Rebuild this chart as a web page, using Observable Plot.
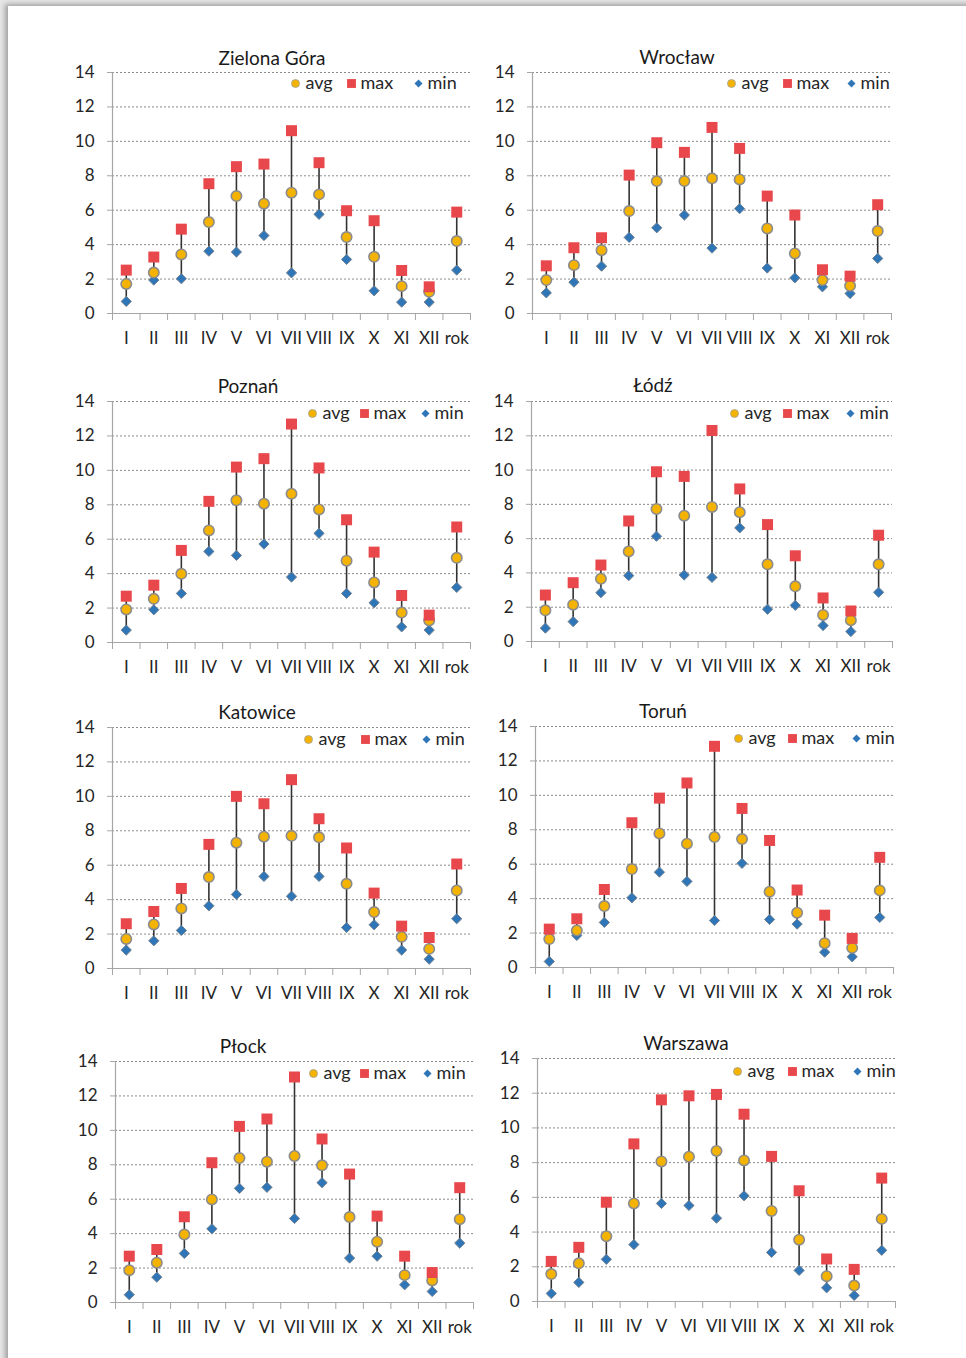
<!DOCTYPE html>
<html>
<head>
<meta charset="utf-8">
<script src="https://cdn.jsdelivr.net/npm/d3@7"></script>
<script src="https://cdn.jsdelivr.net/npm/@observablehq/plot@0.6"></script>
<style>
  html, body { margin: 0; padding: 0; background: #e6e6e6; }
  #page { position: relative; width: 966px; height: 1358px; overflow: hidden; background: #e6e6e6; }
  #card { position: absolute; left: 8px; top: 6px; width: 980px; height: 1380px; background: #ffffff;
          box-shadow: -3px -2px 5px rgba(0,0,0,0.30); }
  .title { position: absolute; transform: translate(-50%, -50%); font-family: Lato, "Open Sans", sans-serif;
           font-size: 19px; color: #1a1a1a; white-space: nowrap; }
  .panel { position: absolute; }
  .panel svg { overflow: visible; }
</style>
</head>
<body>
<div id="page"><div id="card"></div></div>
<script>
// ---- data ----
const months = ["I","II","III","IV","V","VI","VII","VIII","IX","X","XI","XII","rok"];
const cities = ["Zielona Góra","Wrocław","Poznań","Łódź","Katowice","Toruń","Płock","Warszawa"];
const seriesNames = ["avg","max","min"];
const yTicks = [0,2,4,6,8,10,12,14];

const avgValues = [
  [1.72,2.38,3.43,5.31,6.82,6.38,7.02,6.92,4.44,3.29,1.59,1.26,4.21],
  [1.94,2.81,3.68,5.95,7.69,7.69,7.85,7.79,4.94,3.49,1.94,1.61,4.79],
  [1.92,2.54,3.99,6.51,8.26,8.06,8.64,7.73,4.75,3.49,1.74,1.28,4.92],
  [1.82,2.15,3.66,5.25,7.73,7.34,7.85,7.54,4.50,3.22,1.55,1.24,4.50],
  [1.72,2.56,3.49,5.31,7.31,7.66,7.71,7.62,4.92,3.28,1.84,1.14,4.53],
  [1.65,2.15,3.57,5.72,7.79,7.19,7.58,7.46,4.40,3.18,1.41,1.14,4.48],
  [1.88,2.31,3.95,5.99,8.39,8.18,8.51,7.97,4.96,3.53,1.59,1.28,4.84],
  [1.58,2.20,3.76,5.65,8.07,8.34,8.67,8.13,5.22,3.56,1.46,0.92,4.76]
];
const maxValues = [
  [2.52,3.28,4.90,7.54,8.53,8.68,10.62,8.76,5.97,5.39,2.50,1.55,5.89],
  [2.77,3.82,4.40,8.04,9.92,9.36,10.81,9.59,6.82,5.72,2.54,2.17,6.32],
  [2.69,3.33,5.35,8.20,10.19,10.68,12.69,10.14,7.13,5.25,2.73,1.59,6.71],
  [2.71,3.43,4.46,7.03,9.90,9.63,12.31,8.90,6.82,5.00,2.54,1.78,6.20],
  [2.60,3.31,4.65,7.21,10.00,9.57,10.97,8.70,7.00,4.38,2.46,1.80,6.07],
  [2.23,2.83,4.53,8.41,9.84,10.72,12.85,9.24,7.38,4.50,3.04,1.69,6.40],
  [2.69,3.08,4.98,8.12,10.23,10.66,13.10,9.50,7.46,5.02,2.69,1.74,6.67],
  [2.31,3.12,5.72,9.08,11.62,11.85,11.93,10.79,8.36,6.38,2.45,1.85,7.11]
];
const minValues = [
  [0.70,1.94,2.02,3.62,3.57,4.53,2.36,5.76,3.14,1.32,0.66,0.66,2.52],
  [1.20,1.82,2.75,4.42,4.98,5.72,3.80,6.09,2.64,2.07,1.55,1.16,3.20],
  [0.72,1.90,2.85,5.29,5.06,5.72,3.80,6.34,2.85,2.31,0.91,0.72,3.20],
  [0.78,1.16,2.85,3.84,6.14,3.88,3.74,6.63,1.88,2.11,0.93,0.58,2.87],
  [1.07,1.61,2.21,3.64,4.30,5.35,4.20,5.35,2.38,2.54,1.07,0.54,2.89],
  [0.35,1.86,2.62,4.05,5.54,5.00,2.73,6.05,2.79,2.52,0.89,0.62,2.91],
  [0.45,1.47,2.85,4.28,6.63,6.69,4.88,6.96,2.58,2.69,1.03,0.64,3.45],
  [0.46,1.10,2.43,3.28,5.65,5.53,4.80,6.09,2.83,1.79,0.79,0.35,2.95]
];

// ---- layout (page pixels): plot frame L/R/T/B, title centre, legend marker positions ----
const layout = [
  {L:112, R:470, T:72,   B:313,  tx:272, ty:57,   lx:295, ly:83,   sq:56, di:123},
  {L:532, R:891, T:72,   B:313,  tx:677, ty:56,   lx:731, ly:83,   sq:56, di:120},
  {L:112, R:470, T:401,  B:642,  tx:248, ty:385,  lx:312, ly:413,  sq:52, di:113},
  {L:531, R:892, T:401,  B:641,  tx:653, ty:384,  lx:734, ly:413,  sq:53, di:116},
  {L:112, R:470, T:727,  B:968,  tx:257, ty:711,  lx:308, ly:739,  sq:57, di:118},
  {L:535, R:893, T:726,  B:967,  tx:663, ty:710,  lx:738, ly:738,  sq:54, di:118},
  {L:115, R:473, T:1061, B:1302, tx:243, ty:1045, lx:313, ly:1073, sq:51, di:114},
  {L:537, R:895, T:1058, B:1301, tx:686, ty:1042, lx:737, ly:1071, sq:55, di:120}
];

const C_AVG = "#f5b301", C_MAX = "#e8484b", C_MIN = "#2f76b8";
const page = document.getElementById("page");

function panel(k) {
  const lay = layout[k];
  const rows = months.map((m, i) => ({i: i + 1, avg: avgValues[k][i], max: maxValues[k][i], min: minValues[k][i]}));
  const ML = 60, MR = 12, MT = 20, MB = 42;
  const w = lay.R - lay.L + ML + MR, h = lay.B - lay.T + MT + MB;
  const lx = lay.lx - lay.L, ly = lay.ly - lay.T;
  const leg = {frameAnchor: "top-left"};
  const legText = {frameAnchor: "top-left", lineAnchor: "middle", textAnchor: "start", fontSize: 18, fill: "#262626", text: d => d};
  const svg = Plot.plot({
    width: w, height: h,
    marginLeft: ML, marginRight: MR, marginTop: MT, marginBottom: MB,
    x: {domain: [0.5, months.length + 0.5]},
    y: {domain: [yTicks[0], yTicks[yTicks.length - 1]]},
    style: {fontFamily: "Lato, 'Open Sans', sans-serif", fontSize: "17px", color: "#262626", background: "transparent", overflow: "visible"},
    marks: [
      Plot.gridY(yTicks.filter(t => t > 0), {stroke: "#8a8a8a", strokeOpacity: 1, strokeDasharray: "2,2", strokeWidth: 1}),
      Plot.ruleY([0], {stroke: "#a6a6a6", strokeWidth: 1.2}),
      Plot.ruleX([0.5], {stroke: "#a6a6a6", strokeWidth: 1.2}),
      Plot.axisY(yTicks, {tickSize: 5, tickPadding: 13, stroke: "#a6a6a6", fill: "#262626", fontSize: 17, label: null}),
      Plot.axisX(d3.range(0.5, months.length + 1, 1), {tickSize: 7, tickFormat: () => "", stroke: "#a6a6a6", label: null}),
      Plot.axisX(d3.range(1, months.length + 1), {tickSize: 0, tickPadding: 18, tickFormat: i => months[i - 1], fill: "#262626", fontSize: 17, label: null}),
      Plot.ruleX(rows, {x: "i", y1: "min", y2: "max", stroke: "#333333", strokeWidth: 1.6}),
      Plot.dot(rows, {x: "i", y: "min", symbol: "diamond2", r: 4.6, fill: C_MIN, stroke: "#6f7f8f", strokeWidth: 1}),
      Plot.dot(rows, {x: "i", y: "avg", symbol: "circle", r: 5.2, fill: C_AVG, stroke: "#8c8c8c", strokeWidth: 1.6}),
      Plot.dot(rows, {x: "i", y: "max", symbol: "square", r: 6.2, fill: C_MAX}),
      // legend
      Plot.dot([0], {...leg, dx: lx, dy: ly, symbol: "circle", r: 4, fill: C_AVG, stroke: "#a0a0a0", strokeWidth: 0.8}),
      Plot.text([seriesNames[0]], {...legText, dx: lx + 10, dy: ly}),
      Plot.dot([0], {...leg, dx: lx + lay.sq, dy: ly, symbol: "square", r: 5, fill: C_MAX}),
      Plot.text([seriesNames[1]], {...legText, dx: lx + lay.sq + 9, dy: ly}),
      Plot.dot([0], {...leg, dx: lx + lay.di, dy: ly, symbol: "diamond2", r: 3.6, fill: C_MIN}),
      Plot.text([seriesNames[2]], {...legText, dx: lx + lay.di + 9, dy: ly})
    ]
  });
  const div = document.createElement("div");
  div.className = "panel";
  div.style.left = (lay.L - ML) + "px";
  div.style.top = (lay.T - MT) + "px";
  div.appendChild(svg);
  page.appendChild(div);

  const t = document.createElement("div");
  t.className = "title";
  t.style.left = lay.tx + "px";
  t.style.top = lay.ty + "px";
  t.textContent = cities[k];
  page.appendChild(t);
}

cities.forEach((c, k) => panel(k));
</script>
</body>
</html>
